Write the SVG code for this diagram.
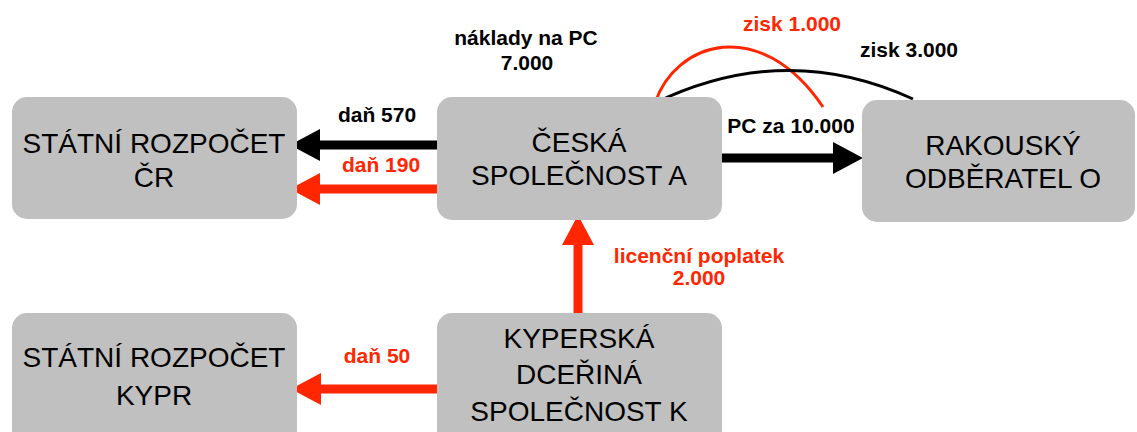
<svg xmlns="http://www.w3.org/2000/svg" width="1137" height="432" viewBox="0 0 1137 432">
<style>
.box{fill:#c0c0c0}
.bt{font-family:"Liberation Sans",Arial,sans-serif;font-size:28px;fill:#000;text-anchor:middle}
.lb{font-family:"Liberation Sans",Arial,sans-serif;font-size:21px;font-weight:bold;text-anchor:middle}
.k{fill:#000}
.r{fill:#ff2600}
.sk{stroke:#000;stroke-width:9;fill:none}
.sr{stroke:#ff2600;stroke-width:9;fill:none}
</style>
<defs>
<marker id="hk" viewBox="0 0 30 32" refX="0" refY="16" markerWidth="30" markerHeight="32" markerUnits="userSpaceOnUse" orient="auto">
<path d="M0,0 L30,16 L0,32 z" fill="#000"/>
</marker>
<marker id="hr" viewBox="0 0 30 32" refX="0" refY="16" markerWidth="30" markerHeight="32" markerUnits="userSpaceOnUse" orient="auto">
<path d="M0,0 L30,16 L0,32 z" fill="#ff2600"/>
</marker>
</defs>
<rect width="1137" height="432" fill="#fff"/>
<g id="connectors">
<path class="sk" d="M437,145 L320,145" marker-end="url(#hk)"/>
<path class="sr" d="M437,189 L320,189" marker-end="url(#hr)"/>
<path class="sk" d="M722,158 L833,158" marker-end="url(#hk)"/>
<path class="sr" d="M578,313 L578,245" marker-end="url(#hr)"/>
<path class="sr" d="M437,389 L321,389" marker-end="url(#hr)"/>
<path d="M655,103 C675,42 760,14 823,107" fill="none" stroke="#ff2600" stroke-width="3"/>
<path d="M655,103 Q785,40 913,99" fill="none" stroke="#000" stroke-width="3"/>
<text class="lb k" x="526" y="45">náklady na PC</text>
<text class="lb k" x="527" y="70">7.000</text>
<text class="lb k" x="377" y="122">daň 570</text>
<text class="lb r" x="381" y="172">daň 190</text>
<text class="lb k" x="791" y="133">PC za 10.000</text>
<text class="lb r" x="792" y="31">zisk 1.000</text>
<text class="lb k" x="909" y="57">zisk 3.000</text>
<text class="lb r" x="699" y="263">licenční poplatek</text>
<text class="lb r" x="699" y="285">2.000</text>
<text class="lb r" x="377" y="363">daň 50</text>
</g>
<g id="node-cr">
<rect class="box" x="12" y="97" width="285" height="122" rx="15"/>
<text class="bt" x="154" y="153">STÁTNÍ ROZPOČET</text>
<text class="bt" x="154" y="187">ČR</text>
</g>
<g id="node-a">
<rect class="box" x="437" y="97" width="285" height="123" rx="15"/>
<text class="bt" x="579" y="152">ČESKÁ</text>
<text class="bt" x="579" y="185">SPOLEČNOST A</text>
</g>
<g id="node-o">
<rect class="box" x="862" y="100" width="273" height="122" rx="15"/>
<text class="bt" x="1003" y="155">RAKOUSKÝ</text>
<text class="bt" x="1003" y="188">ODBĚRATEL O</text>
</g>
<g id="node-kypr">
<rect class="box" x="12" y="313" width="285" height="135" rx="15"/>
<text class="bt" x="154" y="367">STÁTNÍ ROZPOČET</text>
<text class="bt" x="154" y="405">KYPR</text>
</g>
<g id="node-k">
<rect class="box" x="437" y="313" width="285" height="135" rx="15"/>
<text class="bt" x="579" y="348">KYPERSKÁ</text>
<text class="bt" x="579" y="384">DCEŘINÁ</text>
<text class="bt" x="579" y="421">SPOLEČNOST K</text>
</g>
</svg>
